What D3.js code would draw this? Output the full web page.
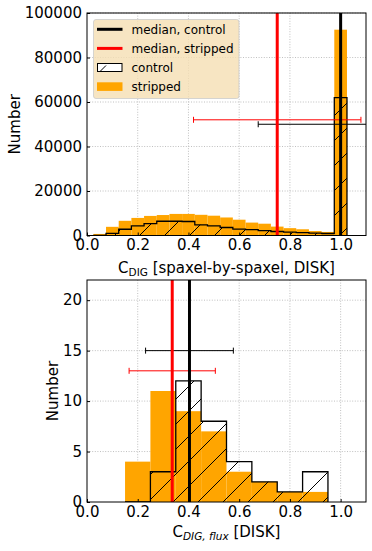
<!DOCTYPE html>
<html>
<head>
<meta charset="utf-8">
<script src="https://cdn.jsdelivr.net/npm/d3@7"></script>
<style>
body{margin:0;background:#fff}
text{font-family:"DejaVu Sans",sans-serif;fill:#000}
</style>
</head>
<body>
<div id="chart"></div>
<script>
var w = 372
var h = 551

// top panel: spaxel-by-spaxel histogram (bin centers, width 0.05)
var topCenters = [0.05,0.1,0.15,0.2,0.25,0.3,0.35,0.4,0.45,0.5,0.55,0.6,0.65,0.7,0.75,0.8,0.85,0.9,0.95,1.0]
var topStripped = [700,3900,6600,7900,8800,9200,9700,9700,9300,8900,8100,7100,5800,5300,4000,3300,2800,2000,1600,92500]
var topControl = [0,1000,2800,4300,5300,6400,6400,6300,4800,4300,3600,2900,2600,2200,1800,1500,1300,1100,900,62000]
var topBinWidth = 0.05

// bottom panel: one value per galaxy (bin centers, width 0.1)
var botCenters = [0.2,0.3,0.4,0.5,0.6,0.7,0.8,0.9]
var botStripped = [4,11,9,7,3,2,1,1]
var botControl = [0,3,12,8,4,2,1,3]
var botBinWidth = 0.1

// medians and spread [top, bottom]
var medControl = [1.0, 0.404]
var medStripped = [0.75, 0.336]
var errControl = [0.325, 0.173]
var errStripped = [0.33, 0.17]
var errYControl = [50000, 15]
var errYStripped = [52000, 13]

var xTicks = [0,0.2,0.4,0.6,0.8,1.0]
var topYTicks = [0,20000,40000,60000,80000,100000]
var botYTicks = [0,5,10,15,20]

var svg = d3.select("#chart").append("svg").attr("width", w).attr("height", h)

var defs = svg.append("defs")
defs.append("pattern")
    .attr("id","hatch")
    .attr("patternUnits","userSpaceOnUse")
    .attr("width",25).attr("height",25)
    .append("path")
    .attr("d","M0,25 L25,0 M-5,5 L5,-5 M20,30 L30,20")
    .attr("stroke","#000").attr("stroke-width",1)

drawPanel({
    id:"p1", left:87, right:366, top:13, bottom:235.5,
    ymax:100000, yTicks:topYTicks,
    centers:topCenters, stripped:topStripped, control:topControl, bw:topBinWidth,
    k:0, ylabelX:15, legend:true
})
drawPanel({
    id:"p2", left:87, right:366, top:280, bottom:502,
    ymax:22, yTicks:botYTicks,
    centers:botCenters, stripped:botStripped, control:botControl, bw:botBinWidth,
    k:1, ylabelX:53, legend:false
})

// x labels
var xl1 = svg.append("text").attr("x",226.5).attr("y",273).attr("text-anchor","middle").attr("font-size",15)
xl1.append("tspan").text("C")
xl1.append("tspan").attr("font-size",10.5).attr("dy",3).text("DIG")
xl1.append("tspan").attr("dy",-3).text(" [spaxel-by-spaxel, DISK]")

var xl2 = svg.append("text").attr("x",226.5).attr("y",537).attr("text-anchor","middle").attr("font-size",15)
xl2.append("tspan").text("C")
xl2.append("tspan").attr("font-size",10.5).attr("font-style","italic").attr("dy",3).text("DIG, flux")
xl2.append("tspan").attr("dy",-3).text(" [DISK]")

function drawPanel(c){
    var x = d3.scaleLinear().domain([0,1.1]).range([c.left,c.right])
    var y = d3.scaleLinear().domain([0,c.ymax]).range([c.bottom,c.top])
    var g = svg.append("g")

    g.append("clipPath").attr("id","clip-"+c.id)
        .append("rect").attr("x",c.left).attr("y",c.top)
        .attr("width",c.right-c.left).attr("height",c.bottom-c.top)

    // grid
    g.selectAll(".gx").data(xTicks.slice(1)).enter().append("line")
        .attr("x1",function(d){return x(d)}).attr("x2",function(d){return x(d)})
        .attr("y1",c.top).attr("y2",c.bottom)
        .attr("stroke","#b0b0b0").attr("stroke-width",0.8).attr("stroke-dasharray","1,1.6")
    g.selectAll(".gy").data(c.yTicks.slice(1)).enter().append("line")
        .attr("x1",c.left).attr("x2",c.right)
        .attr("y1",function(d){return y(d)}).attr("y2",function(d){return y(d)})
        .attr("stroke","#b0b0b0").attr("stroke-width",0.8).attr("stroke-dasharray","1,1.6")

    var plot = g.append("g").attr("clip-path","url(#clip-"+c.id+")")

    // stripped bars
    plot.selectAll(".bar").data(c.stripped).enter().append("rect")
        .attr("x",function(d,i){return x(c.centers[i]-c.bw/2)})
        .attr("width",function(d,i){return x(c.centers[i]+c.bw/2)-x(c.centers[i]-c.bw/2)})
        .attr("y",function(d){return y(d)})
        .attr("height",function(d){return y(0)-y(d)})
        .attr("fill","#ffa500")

    // control step histogram with hatch
    var pts = [[c.centers[0]-c.bw/2,0]]
    c.control.forEach(function(v,i){
        pts.push([c.centers[i]-c.bw/2,v])
        pts.push([c.centers[i]+c.bw/2,v])
    })
    pts.push([c.centers[c.centers.length-1]+c.bw/2,0])
    var line = d3.line().x(function(d){return x(d[0])}).y(function(d){return y(d[1])})
    plot.append("path").attr("d",line(pts)+"Z").attr("fill","url(#hatch)").attr("stroke","none")
    plot.append("path").attr("d",line(pts)).attr("fill","none").attr("stroke","#000").attr("stroke-width",1.3)

    // error bars
    var errs = [
        {m:medControl[c.k], e:errControl[c.k], y:errYControl[c.k], col:"#000"},
        {m:medStripped[c.k], e:errStripped[c.k], y:errYStripped[c.k], col:"#ff0000"}
    ]
    errs.forEach(function(d){
        plot.append("line").attr("x1",x(d.m-d.e)).attr("x2",x(d.m+d.e))
            .attr("y1",y(d.y)).attr("y2",y(d.y)).attr("stroke",d.col).attr("stroke-width",1)
        ;[d.m-d.e,d.m+d.e].forEach(function(v){
            plot.append("line").attr("x1",x(v)).attr("x2",x(v))
                .attr("y1",y(d.y)-3).attr("y2",y(d.y)+3).attr("stroke",d.col).attr("stroke-width",1)
        })
    })

    // medians
    plot.append("line").attr("x1",x(medControl[c.k])).attr("x2",x(medControl[c.k]))
        .attr("y1",c.top).attr("y2",c.bottom).attr("stroke","#000").attr("stroke-width",3)
    plot.append("line").attr("x1",x(medStripped[c.k])).attr("x2",x(medStripped[c.k]))
        .attr("y1",c.top).attr("y2",c.bottom).attr("stroke","#ff0000").attr("stroke-width",3)

    // axes
    var xa = g.append("g").attr("transform","translate(0,"+c.bottom+")")
        .call(d3.axisBottom(x).tickValues(xTicks).tickFormat(d3.format(".1f")).tickSizeInner(-3).tickSizeOuter(0).tickPadding(4))
    var ya = g.append("g").attr("transform","translate("+c.left+",0)")
        .call(d3.axisLeft(y).tickValues(c.yTicks).tickFormat(d3.format("d")).tickSizeInner(-3).tickSizeOuter(0).tickPadding(5))
    ;[xa,ya].forEach(function(a){
        a.select(".domain").remove()
        a.selectAll("text").attr("font-size",15).attr("font-family","DejaVu Sans")
        a.selectAll("line").attr("stroke","#000")
    })

    g.append("rect").attr("x",c.left).attr("y",c.top)
        .attr("width",c.right-c.left).attr("height",c.bottom-c.top)
        .attr("fill","none").attr("stroke","#000").attr("stroke-width",1)

    g.append("text").attr("transform","translate("+c.ylabelX+","+((c.top+c.bottom)/2)+") rotate(-90)")
        .attr("text-anchor","middle").attr("dy","0.35em").attr("font-size",15).text("Number")

    if(c.legend){
        var lg = g.append("g")
        lg.append("rect").attr("x",93.5).attr("y",19.5).attr("width",145.5).attr("height",79)
            .attr("rx",2.5).attr("fill","#f5deb3").attr("fill-opacity",0.8)
            .attr("stroke","#cccccc").attr("stroke-opacity",0.8)
        var items = [
            {t:"median, control", type:"line", col:"#000"},
            {t:"median, stripped", type:"line", col:"#ff0000"},
            {t:"control", type:"hatch"},
            {t:"stripped", type:"patch"}
        ]
        items.forEach(function(d,i){
            var yy = 29.3 + i*19.1
            if(d.type=="line"){
                lg.append("line").attr("x1",97).attr("x2",122.5).attr("y1",yy).attr("y2",yy)
                    .attr("stroke",d.col).attr("stroke-width",3)
            }else if(d.type=="hatch"){
                lg.append("rect").attr("x",97.5).attr("y",yy-4).attr("width",24.5).attr("height",8)
                    .attr("fill","#fff")
                lg.append("line").attr("x1",100).attr("x2",106).attr("y1",yy+4).attr("y2",yy-2)
                    .attr("stroke","#000").attr("stroke-width",1)
                lg.append("rect").attr("x",97.5).attr("y",yy-4).attr("width",24.5).attr("height",8)
                    .attr("fill","none").attr("stroke","#000").attr("stroke-width",1)
            }else{
                lg.append("rect").attr("x",97).attr("y",yy-4.3).attr("width",25.5).attr("height",8.6)
                    .attr("fill","#ffa500")
            }
            lg.append("text").attr("x",131.5).attr("y",yy).attr("dy","0.35em").attr("font-size",12).text(d.t)
        })
    }
}
</script>
</body>
</html>
